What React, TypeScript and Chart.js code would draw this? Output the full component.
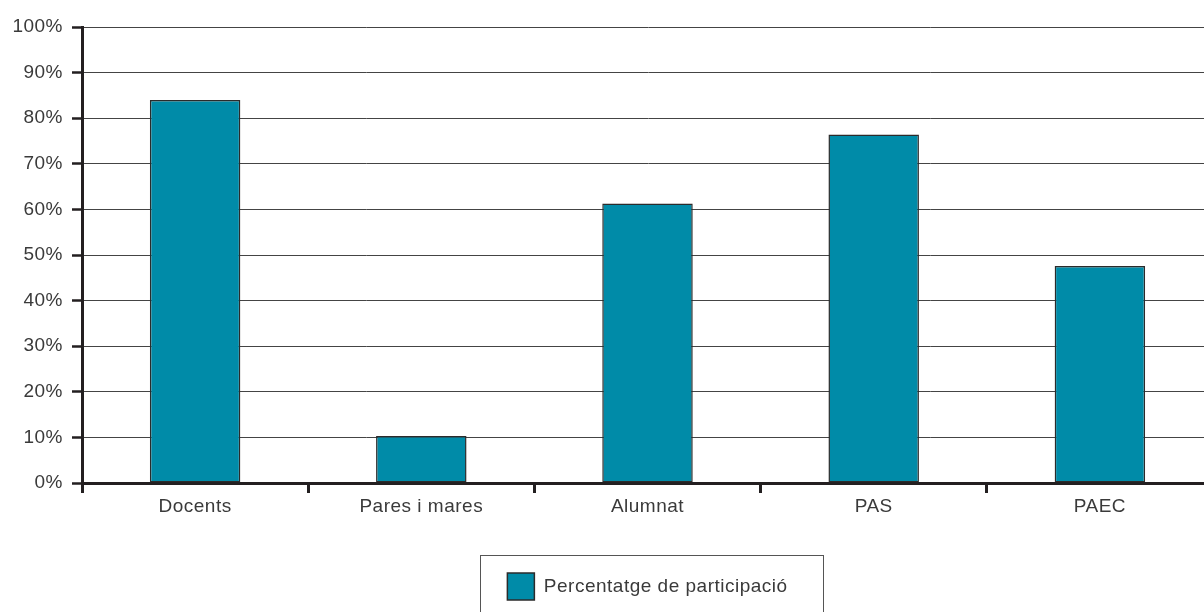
import { useEffect, useRef } from "react";
import { Chart, registerables } from "chart.js";

Chart.register(...registerables);

const categories = ["Docents", "Pares i mares", "Alumnat", "PAS", "PAEC"];
const participation = [84.0, 10.3, 61.3, 76.4, 47.6];
const seriesLabel = "Percentatge de participació";
const yTickLabels = ["0%", "10%", "20%", "30%", "40%", "50%", "60%", "70%", "80%", "90%", "100%"];

const FONT = "'Liberation Sans', Arial, Helvetica, sans-serif";
const TEXT = "#3a3a3a";
const AXIS = "#231f20";

const spacing = {
  id: "spacing",
  beforeUpdate(chart: any) {
    chart.ctx.letterSpacing = "0.5px";
  },
  beforeDraw(chart: any) {
    chart.ctx.letterSpacing = "0.5px";
  },
};

const legendFrame = {
  id: "legendFrame",
  afterDraw(chart: any) {
    const hb = chart.legend?.legendHitBoxes?.[0];
    if (!hb) return;
    const ctx = chart.ctx;
    ctx.save();
    ctx.strokeStyle = "#555";
    ctx.lineWidth = 1;
    const x0 = Math.round(hb.left - 27) + 0.5;
    const y0 = Math.round(hb.top - 18) + 0.5;
    const x1 = Math.round(hb.left + hb.width + 35) + 0.5;
    ctx.strokeRect(x0, y0, x1 - x0, chart.height + 4 - y0);
    ctx.restore();
  },
};

export default function App() {
  const ref = useRef<HTMLCanvasElement>(null);
  useEffect(() => {
    if (!ref.current) return;
    const chart = new Chart(ref.current, {
      type: "bar",
      data: {
        labels: categories,
        datasets: [
          {
            label: seriesLabel,
            data: participation,
            backgroundColor: "#008ba8",
            borderColor: "#2b2b2b",
            borderWidth: 1.5,
            borderSkipped: false,
            barPercentage: 0.4,
            categoryPercentage: 1,
          },
        ],
      },
      options: {
        responsive: false,
        animation: false,
        devicePixelRatio: 1,
        layout: { padding: { left: 0, top: 27, right: 0, bottom: 2 } },
        font: { family: FONT },
        plugins: {
          tooltip: { enabled: false },
          legend: {
            position: "bottom",
            fullSize: false,
            labels: {
              boxWidth: 27,
              boxHeight: 27,
              padding: 10,
              color: TEXT,
              font: { family: FONT, size: 19 },
            },
          },
        },
        scales: {
          x: {
            afterFit: (s: any) => {
              s.height = 80;
            },
            grid: {
              display: true,
              drawOnChartArea: false,
              drawTicks: true,
              tickLength: 10,
              tickColor: AXIS,
              tickWidth: 3,
              offset: true,
            },
            border: { display: true, color: AXIS, width: 3 },
            ticks: {
              color: TEXT,
              padding: 2,
              font: { family: FONT, size: 19 },
              maxRotation: 0,
              autoSkip: false,
            },
          },
          y: {
            min: 0,
            max: 100,
            afterFit: (s: any) => {
              s.width = 82;
            },
            grid: {
              color: "#444",
              lineWidth: 1,
              drawTicks: true,
              tickLength: 10,
              tickColor: AXIS,
              tickWidth: 2.5,
            },
            border: { display: true, color: AXIS, width: 3 },
            ticks: {
              stepSize: 10,
              color: TEXT,
              padding: 9,
              font: { family: FONT, size: 19 },
              callback: (_v: any, i: number) => yTickLabels[i],
            },
          },
        },
      } as any,
      plugins: [spacing, legendFrame],
    });
    return () => chart.destroy();
  }, []);

  return (
    <div
      style={{
        position: "fixed",
        left: 0,
        top: 0,
        width: 1204,
        height: 612,
        overflow: "hidden",
        background: "#fff",
      }}
    >
      <canvas ref={ref} width={1213} height={612} style={{ display: "block" }} />
    </div>
  );
}
